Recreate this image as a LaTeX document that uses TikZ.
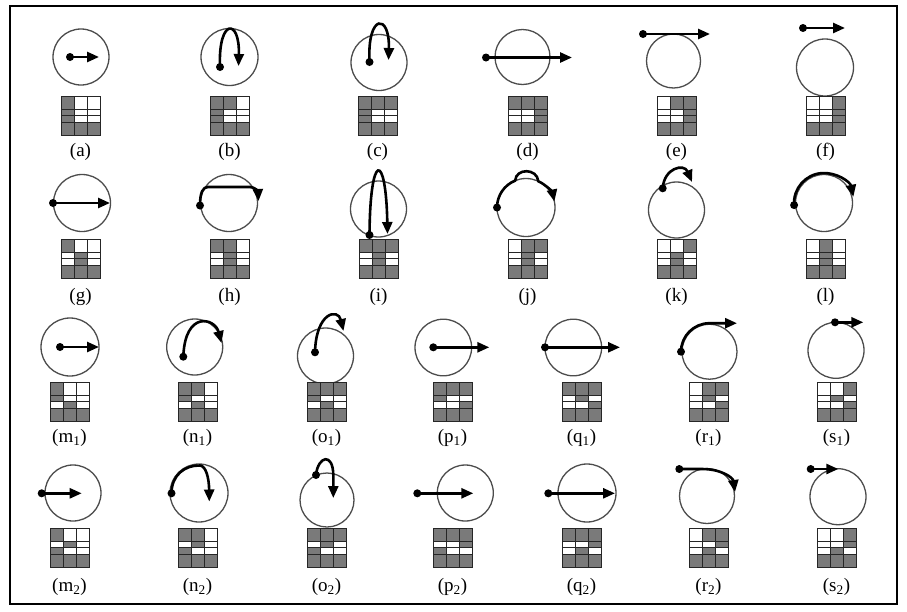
\documentclass[tikz,border=0pt]{standalone}
\usepackage{fontspec}
\setmainfont{Liberation Serif}
\usetikzlibrary{arrows.meta}
\colorlet{G}{black!52}
\colorlet{W}{white}
\newcommand\sensgrid[3]{%
  \foreach \c [count=\i from 0] in {#3} {
    \pgfmathtruncatemacro\col{mod(\i,3)}
    \pgfmathtruncatemacro\rw{div(\i,3)}
    \pgfmathsetmacro\ya{13*min(\rw,1)+6.5*max(\rw-1,0)}
    \pgfmathsetmacro\yb{\ya+13-6.5*min(\rw,1)}
    \fill[\c] ({#1+13*\col},{#2+\ya}) rectangle ({#1+13*\col+13},{#2+\yb});
  }
  \fill[G] (#1,#2+26) rectangle (#1+39,#2+39);
  \draw[gridline] (#1,#2) rectangle (#1+39,#2+39);
  \draw[gridline] (#1+13,#2) -- (#1+13,#2+39) (#1+26,#2) -- (#1+26,#2+39)
    (#1,#2+13) -- (#1+39,#2+13) (#1,#2+19.5) -- (#1+39,#2+19.5) (#1,#2+26) -- (#1+39,#2+26);
}
\begin{document}
\begin{tikzpicture}[x=1pt,y=-1pt,
  ring/.style={circle,draw=black!70,line width=1.3pt,inner sep=0pt,outer sep=0pt},
  gridline/.style={draw=black!85,line width=0.9pt},
  mv/.style={draw=black,line width=2.6pt,-{Triangle[length=12pt,width=10pt]}},
  dotp/.style={fill=black},
  lab/.style={font=\fontsize{19}{21}\selectfont,inner sep=0pt}]
\useasboundingbox (0,0) rectangle (907,611);
\draw[line width=1.5pt] (10,6) rectangle (897,604);

% ---------- row 1 ----------
\node[ring,minimum size=56pt] (ca) at (81,57) {};
\coordinate (sa) at (70,57); \coordinate (ea) at (99,57);
\draw[mv] (sa) -- (ea); \fill[dotp] (sa) circle (4pt);
\sensgrid{61}{96}{G,W,W,G,W,W,G,W,W}
\node[lab] (la) at (80.5,152) {(a)};

\node[ring,minimum size=57pt] (cb) at (229.5,57) {};
\coordinate (sb) at (220,67); \coordinate (eb) at (238.5,66);
\draw[mv] (sb) .. controls (218,18) and (240,18) .. (eb); \fill[dotp] (sb) circle (4pt);
\sensgrid{210}{96}{G,G,W,G,W,W,G,W,W}
\node[lab] (lb) at (229.5,152) {(b)};

\node[ring,minimum size=56pt] (cc) at (379,62.5) {};
\coordinate (sc) at (369.5,62); \coordinate (ec) at (388.5,60);
\draw[mv] (sc) .. controls (367,13) and (390,13) .. (ec); \fill[dotp] (sc) circle (4pt);
\sensgrid{358}{96}{G,G,G,G,W,W,G,W,W}
\node[lab] (lc) at (377.5,152) {(c)};

\node[ring,minimum size=55pt] (cd) at (522.5,57) {};
\coordinate (sd) at (486,57.5); \coordinate (ed) at (572,57.5);
\draw[mv] (sd) -- (ed); \fill[dotp] (sd) circle (4pt);
\sensgrid{508}{96}{G,G,G,W,W,G,W,W,G}
\node[lab] (ld) at (527.5,152) {(d)};

\node[ring,minimum size=54pt] (ce) at (673.5,61) {};
\coordinate (se) at (643,34); \coordinate (ee) at (710,34);
\draw[mv] (se) -- (ee); \fill[dotp] (se) circle (4pt);
\sensgrid{657}{96}{W,G,G,W,W,G,W,W,G}
\node[lab] (le) at (676.5,152) {(e)};

\node[ring,minimum size=57pt] (cf) at (825,67.5) {};
\coordinate (sf) at (803,28); \coordinate (ef) at (845,28);
\draw[mv] (sf) -- (ef); \fill[dotp] (sf) circle (4pt);
\sensgrid{806}{96}{W,W,G,W,W,G,W,W,G}
\node[lab] (lf) at (825.5,152) {(f)};

% ---------- row 2 ----------
\node[ring,minimum size=57pt] (cg) at (82,203) {};
\coordinate (sg) at (53,203); \coordinate (eg) at (110,203);
\draw[mv] (sg) -- (eg); \fill[dotp] (sg) circle (4pt);
\sensgrid{61}{239}{G,W,W,W,G,W,W,G,W}
\node[lab] (lg) at (80.5,297) {(g)};

\node[ring,minimum size=57pt] (ch) at (229,203) {};
\coordinate (sh) at (200,205.5); \coordinate (eh) at (258.5,201);
\draw[mv] (sh) .. controls (200,192) and (203,187) .. (208,187) -- (250,187)
  .. controls (255,187) and (258,192) .. (eh); \fill[dotp] (sh) circle (4pt);
\sensgrid{210}{239}{G,G,W,W,G,W,W,G,W}
\node[lab] (lh) at (229.5,297) {(h)};

\node[ring,minimum size=56pt] (ci) at (378.5,209) {};
\coordinate (si) at (369.5,235); \coordinate (ei) at (387.5,234);
\draw[mv] (si) .. controls (370,151) and (386,151) .. (ei); \fill[dotp] (si) circle (4pt);
\sensgrid{359}{239}{G,G,G,W,G,W,W,G,W}
\node[lab] (li) at (378.5,297) {(i)};

\node[ring,minimum size=58pt] (cj) at (526,207.5) {};
\coordinate (sj) at (497,207.5);
\draw[mv] (sj) arc[start angle=-180,end angle=-112,radius=29]
  .. controls (516,168) and (537,168) .. (538.3,181.2)
  arc[start angle=-65,end angle=-12,radius=29]; \fill[dotp] (sj) circle (4pt);
\sensgrid{508}{239}{W,G,G,W,G,W,W,G,W}
\node[lab] (lj) at (527.5,297) {(j)};

\node[ring,minimum size=56pt] (ck) at (676.5,210) {};
\coordinate (sk) at (662.7,188.3); \coordinate (ek) at (692,182);
\draw[mv] (sk) .. controls (664,168) and (684,163) .. (ek); \fill[dotp] (sk) circle (4pt);
\sensgrid{657}{239}{W,W,G,W,G,W,W,G,W}
\node[lab] (lk) at (676.5,297) {(k)};

\node[ring,minimum size=57pt] (cl) at (824,203) {};
\coordinate (sl) at (794.1,205.1);
\draw[mv] (sl) arc[start angle=-184,end angle=-12,radius=30]; \fill[dotp] (sl) circle (4pt);
\sensgrid{806}{239}{W,G,W,W,G,W,W,G,W}
\node[lab] (ll) at (825.5,297) {(l)};

% ---------- row 3 ----------
\node[ring,minimum size=58pt] (cm1) at (70,347) {};
\coordinate (sm1) at (60,347); \coordinate (em1) at (99,347);
\draw[mv] (sm1) -- (em1); \fill[dotp] (sm1) circle (4pt);
\sensgrid{50}{382}{G,W,W,G,W,W,W,G,W}
\node[lab] (lm1) at (69.5,438) {(m\textsubscript{1})};

\node[ring,minimum size=56pt] (cn1) at (194.7,347) {};
\coordinate (sn1) at (183.3,356.7); \coordinate (en1) at (221.5,343);
\draw[mv] (sn1) .. controls (185,310) and (215,318) .. (en1); \fill[dotp] (sn1) circle (4pt);
\sensgrid{178}{382}{G,G,W,G,W,W,W,G,W}
\node[lab] (ln1) at (197.5,438) {(n\textsubscript{1})};

\node[ring,minimum size=56pt] (co1) at (325.5,356) {};
\coordinate (so1) at (315,352.3); \coordinate (eo1) at (343.5,331);
\draw[mv] (so1) .. controls (316,312) and (338,308) .. (eo1); \fill[dotp] (so1) circle (4pt);
\sensgrid{307}{382}{G,G,G,G,W,W,W,G,W}
\node[lab] (lo1) at (326.5,438) {(o\textsubscript{1})};

\node[ring,minimum size=56.6pt] (cp1) at (443.3,347.5) {};
\coordinate (sp1) at (433.3,347.3); \coordinate (ep1) at (489.3,347.3);
\draw[mv] (sp1) -- (ep1); \fill[dotp] (sp1) circle (4pt);
\sensgrid{433}{382}{G,G,G,G,W,W,W,W,G}
\node[lab] (lp1) at (452.5,438) {(p\textsubscript{1})};

\node[ring,minimum size=56.6pt] (cq1) at (573.3,347.5) {};
\coordinate (sq1) at (545,347.3); \coordinate (eq1) at (620,347.3);
\draw[mv] (sq1) -- (eq1); \fill[dotp] (sq1) circle (4pt);
\sensgrid{562}{382}{G,G,G,W,G,W,W,W,G}
\node[lab] (lq1) at (581.5,438) {(q\textsubscript{1})};

\node[ring,minimum size=55pt] (cr1) at (709.5,351.7) {};
\coordinate (sr1) at (681,351.7); \coordinate (er1) at (737,323.2);
\draw[mv] (sr1) arc[start angle=-180,end angle=-90,radius=28.5] -- (er1); \fill[dotp] (sr1) circle (4pt);
\sensgrid{689}{382}{W,G,G,W,G,W,W,W,G}
\node[lab] (lr1) at (708.5,438) {(r\textsubscript{1})};

\node[ring,minimum size=56pt] (cs1) at (836,350.3) {};
\coordinate (ss1) at (835,322.3); \coordinate (es1) at (863.3,322.3);
\draw[mv] (ss1) -- (es1); \fill[dotp] (ss1) circle (4pt);
\sensgrid{817}{382}{W,W,G,W,G,W,W,W,G}
\node[lab] (ls1) at (836.5,438) {(s\textsubscript{1})};

% ---------- row 4 ----------
\node[ring,minimum size=56pt] (cm2) at (73,493) {};
\coordinate (sm2) at (41.7,493.3); \coordinate (em2) at (81.7,493.3);
\draw[mv] (sm2) -- (em2); \fill[dotp] (sm2) circle (4pt);
\sensgrid{50}{528}{G,W,W,W,G,W,G,W,W}
\node[lab] (lm2) at (69.5,587) {(m\textsubscript{2})};

\node[ring,minimum size=58pt] (cn2) at (199,493) {};
\coordinate (sn2) at (171.5,493.3); \coordinate (en2) at (209.3,501.5);
\draw[mv] (sn2) .. controls (171.5,475) and (185,465) .. (200,465.5)
  .. controls (206,466) and (209,478) .. (en2); \fill[dotp] (sn2) circle (4pt);
\sensgrid{178}{528}{G,G,W,W,G,W,G,W,W}
\node[lab] (ln2) at (197.5,587) {(n\textsubscript{2})};

\node[ring,minimum size=54pt] (co2) at (327,500) {};
\coordinate (so2) at (316,475); \coordinate (eo2) at (333.3,498);
\draw[mv] (so2) .. controls (318,456) and (333,452) .. (333.3,475) -- (eo2); \fill[dotp] (so2) circle (4pt);
\sensgrid{307}{528}{G,G,G,W,G,W,G,W,W}
\node[lab] (lo2) at (326.5,587) {(o\textsubscript{2})};

\node[ring,minimum size=56pt] (cp2) at (465.3,493) {};
\coordinate (sp2) at (417.3,493.3); \coordinate (ep2) at (473.3,493.3);
\draw[mv] (sp2) -- (ep2); \fill[dotp] (sp2) circle (4pt);
\sensgrid{433}{528}{G,G,G,W,W,G,G,W,W}
\node[lab] (lp2) at (452.5,587) {(p\textsubscript{2})};

\node[ring,minimum size=58pt] (cq2) at (587,493) {};
\coordinate (sq2) at (548.3,493.3); \coordinate (eq2) at (615,493.3);
\draw[mv] (sq2) -- (eq2); \fill[dotp] (sq2) circle (4pt);
\sensgrid{562}{528}{G,G,G,W,W,G,W,G,W}
\node[lab] (lq2) at (581.5,587) {(q\textsubscript{2})};

\node[ring,minimum size=55pt] (cr2) at (707,496) {};
\coordinate (sr2) at (679.3,469); \coordinate (er2) at (735,492);
\draw[mv] (sr2) -- (702,469) .. controls (722,469) and (733,478) .. (er2); \fill[dotp] (sr2) circle (4pt);
\sensgrid{689}{528}{W,G,G,W,W,G,W,G,W}
\node[lab] (lr2) at (708.5,587) {(r\textsubscript{2})};

\node[ring,minimum size=56pt] (cs2) at (838,496.7) {};
\coordinate (ss2) at (810.7,469); \coordinate (es2) at (838.3,469);
\draw[mv] (ss2) -- (es2); \fill[dotp] (ss2) circle (4pt);
\sensgrid{817}{528}{W,W,G,W,W,G,W,G,W}
\node[lab] (ls2) at (836.5,587) {(s\textsubscript{2})};
\end{tikzpicture}
\end{document}
